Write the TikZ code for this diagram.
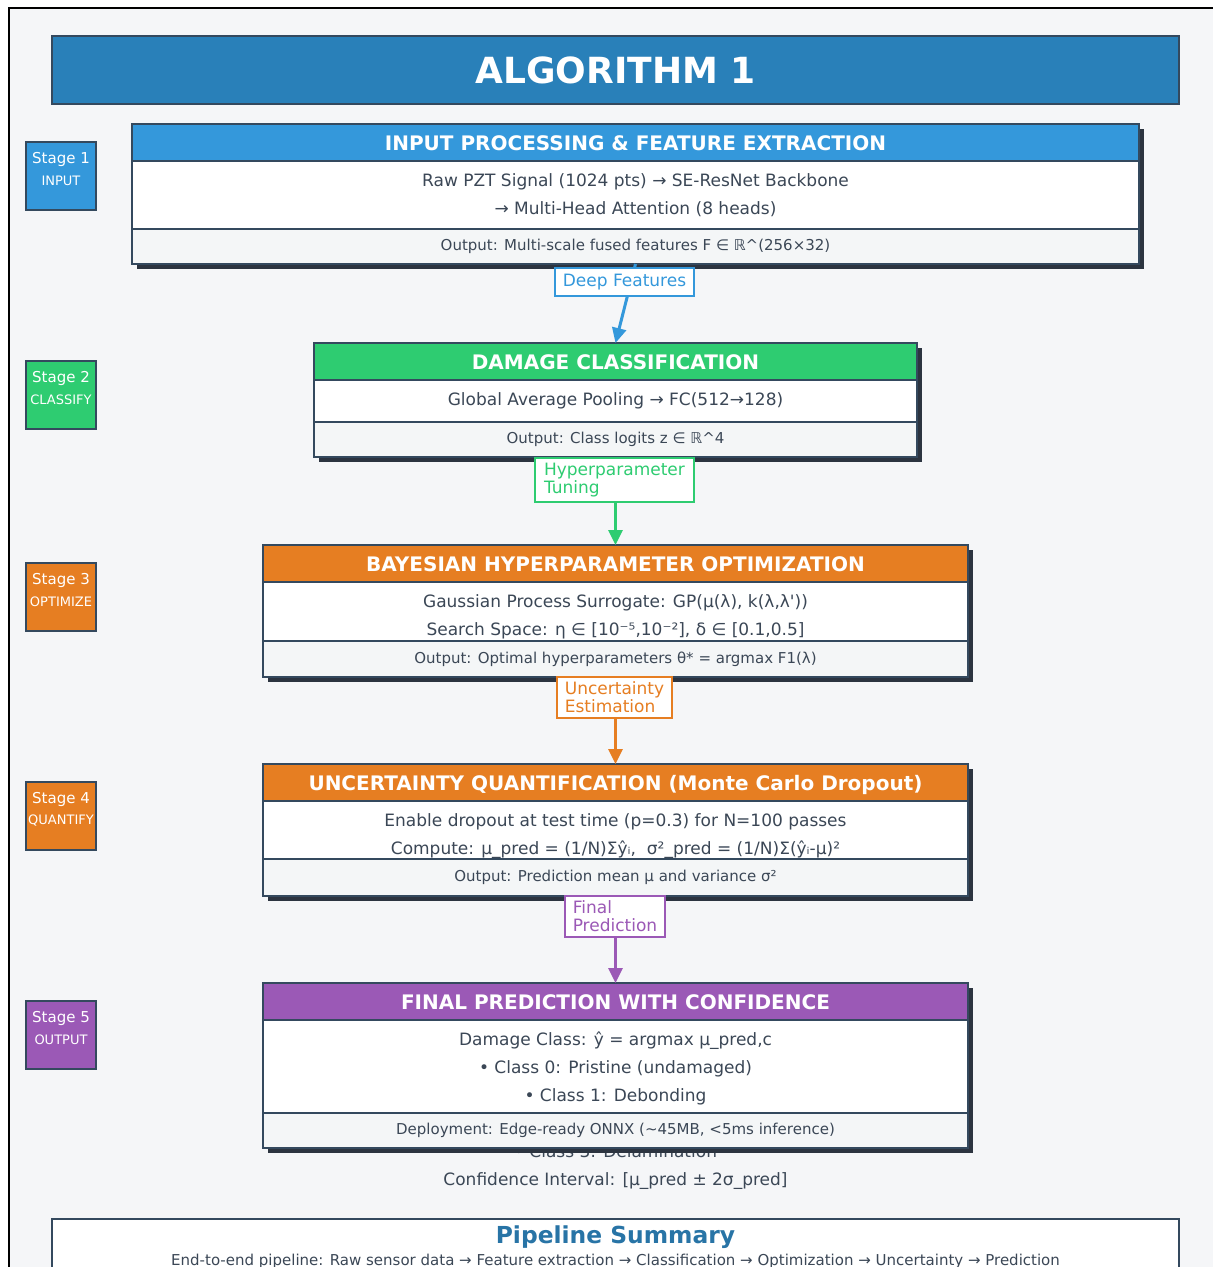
\documentclass[tikz,border=0pt]{standalone}
\usepackage{fontspec}
\setmainfont{DejaVu Sans}
\usetikzlibrary{arrows.meta,calc}
\pgfdeclarelayer{back}
\pgfdeclarelayer{bg}
\pgfsetlayers{back,bg,main}
\definecolor{bgc}{HTML}{F5F6F8}
\definecolor{titlec}{HTML}{2980B9}
\definecolor{bluec}{HTML}{3498DB}
\definecolor{greenc}{HTML}{2ECC71}
\definecolor{orangec}{HTML}{E67E22}
\definecolor{purplec}{HTML}{9B59B6}
\definecolor{bordc}{HTML}{34495E}
\definecolor{shadc}{HTML}{2C3440}
\definecolor{outc}{HTML}{F4F6F7}
\definecolor{txtc}{HTML}{3B4756}
\definecolor{sumc}{HTML}{2874A6}
\begin{document}
\begin{tikzpicture}[x=0.5pt,y=-0.5pt,outer sep=0pt,
 hdr/.style={draw=bordc,line width=1pt,fill=#1,text=white,font=\fontsize{10}{12}\selectfont\bfseries,minimum height=18.5pt,inner sep=0pt,anchor=north,text height=9.4pt,text depth=1.2pt},
 body/.style={draw=bordc,line width=1pt,fill=white,inner sep=0pt,anchor=north},
 bl/.style={text=txtc,font=\fontsize{8.5}{14}\selectfont,inner sep=0pt,text height=6.5pt,text depth=2pt},
 outp/.style={draw=bordc,line width=1pt,fill=outc,text=txtc,font=\fontsize{7.5}{9}\selectfont,inner sep=0pt,anchor=north},
 stagebox/.style={draw=bordc,line width=1pt,fill=#1,minimum width=35pt,minimum height=34pt,inner sep=0pt},
 stagetxt/.style={text=white,inner sep=0pt,font=\fontsize{7.5}{9}\selectfont},
 stagesub/.style={text=white,inner sep=0pt,font=\fontsize{6.5}{8}\selectfont},
 conn/.style={draw=#1,line width=1.5pt,-{Triangle[length=7.5pt,width=7pt]}},
 lab/.style={draw=#1,text=#1,fill=white,line width=0.75pt,font=\fontsize{8.5}{9}\selectfont,align=left,inner sep=0pt},
]
\useasboundingbox (0,0) rectangle (1212,1267);

% title
\node[draw=bordc,line width=1pt,fill=titlec,minimum width=563.5pt,minimum height=34pt,text=white,font=\fontsize{18}{20}\selectfont\bfseries] (title) at (615.5,70) {ALGORITHM 1};

% stage badges
\foreach \i/\yy/\c/\w in {1/142/bluec/INPUT,2/361/greenc/CLASSIFY,3/563/orangec/OPTIMIZE,4/782/orangec/QUANTIFY,5/1001/purplec/OUTPUT}{
  \node[stagebox=\c] (s\i) at (61,\yy+34) {};
  \node[stagetxt] (s\i a) at (61,\yy+17) {Stage \i};
  \node[stagesub] (s\i b) at (61,\yy+39) {\w};
}

% box 1
\node[hdr=bluec,minimum width=503.5pt] (h1) at (635.5,124) {INPUT PROCESSING \& FEATURE EXTRACTION};
\node[body,minimum width=503.5pt,minimum height=34pt] (m1) at (h1.south) {};
\node[bl] (m1a) at ($(m1.north)+(0,21)$) {Raw PZT Signal (1024 pts) → SE-ResNet Backbone};
\node[bl] (m1b) at ($(m1.north)+(0,49)$) {→ Multi-Head Attention (8 heads)};
\node[outp,minimum width=503.5pt,minimum height=17.5pt] (o1) at (m1.south) {Output: Multi-scale fused features F ∈ ℝ\textasciicircum(256×32)};

% box 2
\node[hdr=greenc,minimum width=301.5pt] (h2) at (615.5,343) {DAMAGE CLASSIFICATION};
\node[body,minimum width=301.5pt,minimum height=21pt] (m2) at (h2.south) {};
\node[bl] (m2a) at ($(m2.north)+(0,21)$) {Global Average Pooling → FC(512→128)};
\node[outp,minimum width=301.5pt,minimum height=17.5pt] (o2) at (m2.south) {Output: Class logits z ∈ ℝ\textasciicircum4};

% box 3
\node[hdr=orangec,minimum width=352.5pt] (h3) at (615.5,545) {BAYESIAN HYPERPARAMETER OPTIMIZATION};
\node[body,minimum width=352.5pt,minimum height=29.5pt] (m3) at (h3.south) {};
\node[bl] (m3a) at ($(m3.north)+(0,21)$) {Gaussian Process Surrogate: GP(μ(λ), k(λ,λ\textquotesingle))};
\node[bl] (m3b) at ($(m3.north)+(0,49)$) {Search Space: η ∈ [10⁻⁵,10⁻²], δ ∈ [0.1,0.5]};
\node[outp,minimum width=352.5pt,minimum height=18pt] (o3) at (m3.south) {Output: Optimal hyperparameters θ* = argmax F1(λ)};

% box 4
\node[hdr=orangec,minimum width=352.5pt] (h4) at (615.5,764) {UNCERTAINTY QUANTIFICATION (Monte Carlo Dropout)};
\node[body,minimum width=352.5pt,minimum height=29pt] (m4) at (h4.south) {};
\node[bl] (m4a) at ($(m4.north)+(0,21)$) {Enable dropout at test time (p=0.3) for N=100 passes};
\node[bl] (m4b) at ($(m4.north)+(0,49)$) {Compute: μ\_pred = (1/N)Σŷᵢ,\ \ σ²\_pred = (1/N)Σ(ŷᵢ-μ)²};
\node[outp,minimum width=352.5pt,minimum height=18.5pt] (o4) at (m4.south) {Output: Prediction mean μ and variance σ²};

% box 5
\node[hdr=purplec,minimum width=352.5pt] (h5) at (615.5,983) {FINAL PREDICTION WITH CONFIDENCE};
\node[body,minimum width=352.5pt,minimum height=46.5pt] (m5) at (h5.south) {};
\node[bl] (m5a) at ($(m5.north)+(0,21)$) {Damage Class: ŷ = argmax μ\_pred,c};
\node[bl] (m5b) at ($(m5.north)+(0,49)$) {• Class 0: Pristine (undamaged)};
\node[bl] (m5c) at ($(m5.north)+(0,77)$) {• Class 1: Debonding};
\node[outp,minimum width=352.5pt,minimum height=17.5pt] (o5) at (m5.south) {Deployment: Edge-ready ONNX (\textasciitilde45MB, <5ms inference)};

\node[bl] (conf) at (615.5,1181) {Confidence Interval: [μ\_pred ± 2σ\_pred]};

% connectors
\draw[conn=bluec] (o1.south) -- (h2.north);
\draw[conn=greenc] (o2.south) -- (h3.north);
\draw[conn=orangec] (o3.south) -- (h4.north);
\draw[conn=purplec] (o4.south) -- (h5.north);

\node[lab=bluec,minimum width=69.5pt,minimum height=14pt] (l1) at (624.5,282) {Deep Features};
\node[lab=greenc,minimum width=79.5pt,minimum height=22pt] (l2) at (614.5,480) {Hyperparameter\\Tuning};
\node[lab=orangec,minimum width=57.5pt,minimum height=20.5pt] (l3) at (614.5,697.5) {Uncertainty\\Estimation};
\node[lab=purplec,minimum width=50pt,minimum height=20.5pt] (l4) at (615,916.5) {Final\\Prediction};

% summary
\node[draw=bordc,line width=1pt,fill=white,minimum width=563.5pt,minimum height=40pt,anchor=north,inner sep=0pt] (sum) at (615.5,1219) {};
\node[text=sumc,font=\fontsize{11.7}{14}\selectfont\bfseries,inner sep=0pt] (sumt) at (615.5,1237) {Pipeline Summary};
\node[text=txtc,font=\fontsize{7.5}{8}\selectfont,inner sep=0pt] (sums) at (615.5,1261) {End-to-end pipeline: Raw sensor data → Feature extraction → Classification → Optimization → Uncertainty → Prediction};

% background layers
\begin{pgfonlayer}{back}
  \fill[white] (0,0) rectangle (1212,1267);
  \draw[black,line width=1.2pt,fill=bgc] (9,8) rectangle (1300,1320);
\end{pgfonlayer}
\begin{pgfonlayer}{bg}
  \node[bl] (hid) at ($(m5.north)+(0,133)$) {• Class 3: Delamination};
  \foreach \i in {1,...,5}{
    \fill[shadc] ($(h\i.north west)+(5,5)$) rectangle ($(o\i.south east)+(5,5)$);
  }
\end{pgfonlayer}
\end{tikzpicture}
\end{document}
